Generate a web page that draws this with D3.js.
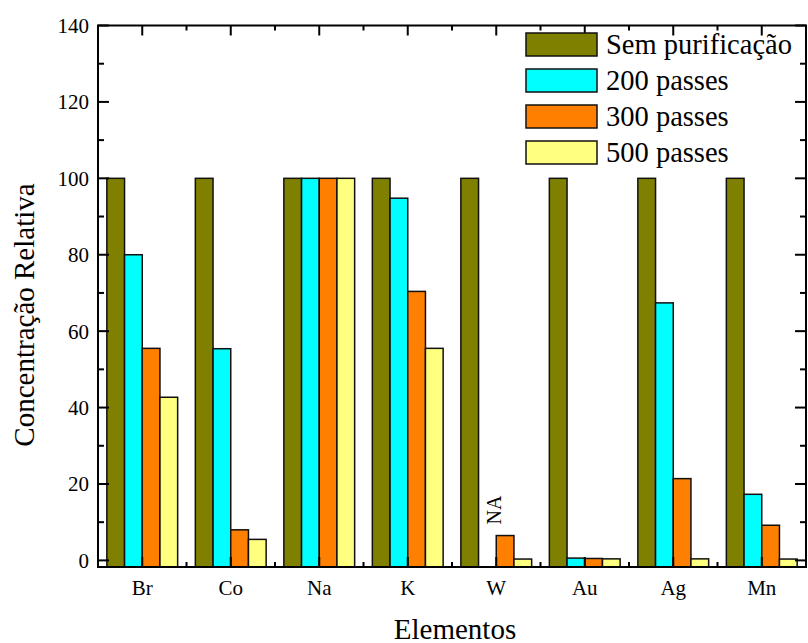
<!DOCTYPE html>
<html>
<head>
<meta charset="utf-8">
<script src="https://cdn.jsdelivr.net/npm/d3@7"></script>
<style>
  body { margin: 0; background: #fff; }
  text { font-family: "Liberation Serif", "Times New Roman", serif; fill: #000; }
</style>
</head>
<body>
<script>
// data
var elements = ["Br", "Co", "Na", "K", "W", "Au", "Ag", "Mn"];
var seriesNames = ["Sem purificação", "200 passes", "300 passes", "500 passes"];
var semPurificacao = [100, 100, 100, 100, 100, 100, 100, 100];
var passes200 = [80, 55.4, 100, 94.8, null, 0.6, 67.4, 17.3];
var passes300 = [55.5, 8, 100, 70.4, 6.5, 0.5, 21.4, 9.2];
var passes500 = [42.7, 5.5, 100, 55.5, 0.35, 0.4, 0.4, 0.35];
var yTicks = [0, 20, 40, 60, 80, 100, 120, 140];
var colors = ["#808000", "#00ffff", "#ff8000", "#ffff80"];

var series = [semPurificacao, passes200, passes300, passes500];

var W = 808, H = 643;
var pLeft = 98, pRight = 806, pTop = 25.5, pBottom = 567;

var svg = d3.select("body")
  .append("svg")
  .attr("width", W)
  .attr("height", H);

var x = d3.scaleBand()
  .domain(elements)
  .range([pLeft, pRight])
  .paddingInner(0.2)
  .paddingOuter(0.1);

var xSub = d3.scaleBand()
  .domain(d3.range(series.length))
  .range([0, x.bandwidth()]);

var y = d3.scaleLinear()
  .domain([-1.73, 140])
  .range([pBottom, pTop]);

// bars
var groups = svg.append("g")
  .selectAll("g")
  .data(elements)
  .enter()
  .append("g")
  .attr("transform", function (d) { return "translate(" + x(d) + ",0)"; });

groups.selectAll("rect")
  .data(function (d, i) {
    return series.map(function (s, k) { return {k: k, v: s[i]}; })
      .filter(function (e) { return e.v !== null; });
  })
  .enter()
  .append("rect")
  .attr("x", function (d) { return xSub(d.k); })
  .attr("width", xSub.bandwidth())
  .attr("y", function (d) { return y(d.v); })
  .attr("height", function (d) { return pBottom - y(d.v); })
  .style("fill", function (d) { return colors[d.k]; })
  .style("stroke", "#111")
  .style("stroke-width", 1.5);

// NA label for W / 200 passes
svg.append("text")
  .attr("transform", "translate(" + (x("W") + xSub(1) + xSub.bandwidth() / 2 + 14) + "," + 510 + ") rotate(-90)")
  .attr("text-anchor", "middle")
  .style("font-size", "20px")
  .text("NA");

// y ticks, left and right, pointing inward
var axes = svg.append("g").style("stroke", "#000").style("stroke-width", 2);
var yMinor = d3.range(10, 140, 20);
yTicks.forEach(function (t) {
  axes.append("line").attr("x1", pLeft).attr("x2", pLeft + 11).attr("y1", y(t)).attr("y2", y(t));
  axes.append("line").attr("x1", pRight).attr("x2", pRight - 11).attr("y1", y(t)).attr("y2", y(t));
});
yMinor.forEach(function (t) {
  axes.append("line").attr("x1", pLeft).attr("x2", pLeft + 6).attr("y1", y(t)).attr("y2", y(t));
  axes.append("line").attr("x1", pRight).attr("x2", pRight - 6).attr("y1", y(t)).attr("y2", y(t));
});

// x ticks, bottom and top
elements.forEach(function (e, i) {
  var cx = x(e) + x.bandwidth() / 2;
  axes.append("line").attr("x1", cx).attr("x2", cx).attr("y1", pBottom).attr("y2", pBottom - 10);
  axes.append("line").attr("x1", cx).attr("x2", cx).attr("y1", pTop).attr("y2", pTop + 10);
  if (i < elements.length - 1) {
    var bx = (x(e) + x.bandwidth() + x(elements[i + 1])) / 2;
    axes.append("line").attr("x1", bx).attr("x2", bx).attr("y1", pBottom).attr("y2", pBottom - 5);
    axes.append("line").attr("x1", bx).attr("x2", bx).attr("y1", pTop).attr("y2", pTop + 5);
  }
});

// frame
axes.append("rect")
  .attr("x", pLeft).attr("y", pTop)
  .attr("width", pRight - pLeft).attr("height", pBottom - pTop)
  .style("fill", "none");

// tick labels
svg.append("g")
  .selectAll("text")
  .data(yTicks)
  .enter()
  .append("text")
  .attr("x", pLeft - 9)
  .attr("y", function (d) { return y(d); })
  .attr("dy", "0.35em")
  .attr("text-anchor", "end")
  .style("font-size", "21px")
  .text(function (d) { return d; });

svg.append("g")
  .selectAll("text")
  .data(elements)
  .enter()
  .append("text")
  .attr("x", function (d) { return x(d) + x.bandwidth() / 2; })
  .attr("y", 595)
  .attr("text-anchor", "middle")
  .style("font-size", "21px")
  .text(function (d) { return d; });

// axis titles
svg.append("text")
  .attr("transform", "translate(34,315) rotate(-90)")
  .attr("text-anchor", "middle")
  .style("font-size", "29px")
  .text("Concentração Relativa");

svg.append("text")
  .attr("x", 455)
  .attr("y", 639)
  .attr("text-anchor", "middle")
  .style("font-size", "29px")
  .text("Elementos");

// legend
var legend = svg.append("g");
seriesNames.forEach(function (name, k) {
  var ly = 33 + k * 36;
  legend.append("rect")
    .attr("x", 526).attr("y", ly)
    .attr("width", 71).attr("height", 23)
    .style("fill", colors[k])
    .style("stroke", "#111")
    .style("stroke-width", 1.5);
  legend.append("text")
    .attr("x", 606)
    .attr("y", ly + 21)
    .style("font-size", "28.5px")
    .text(name);
});
</script>
</body>
</html>
